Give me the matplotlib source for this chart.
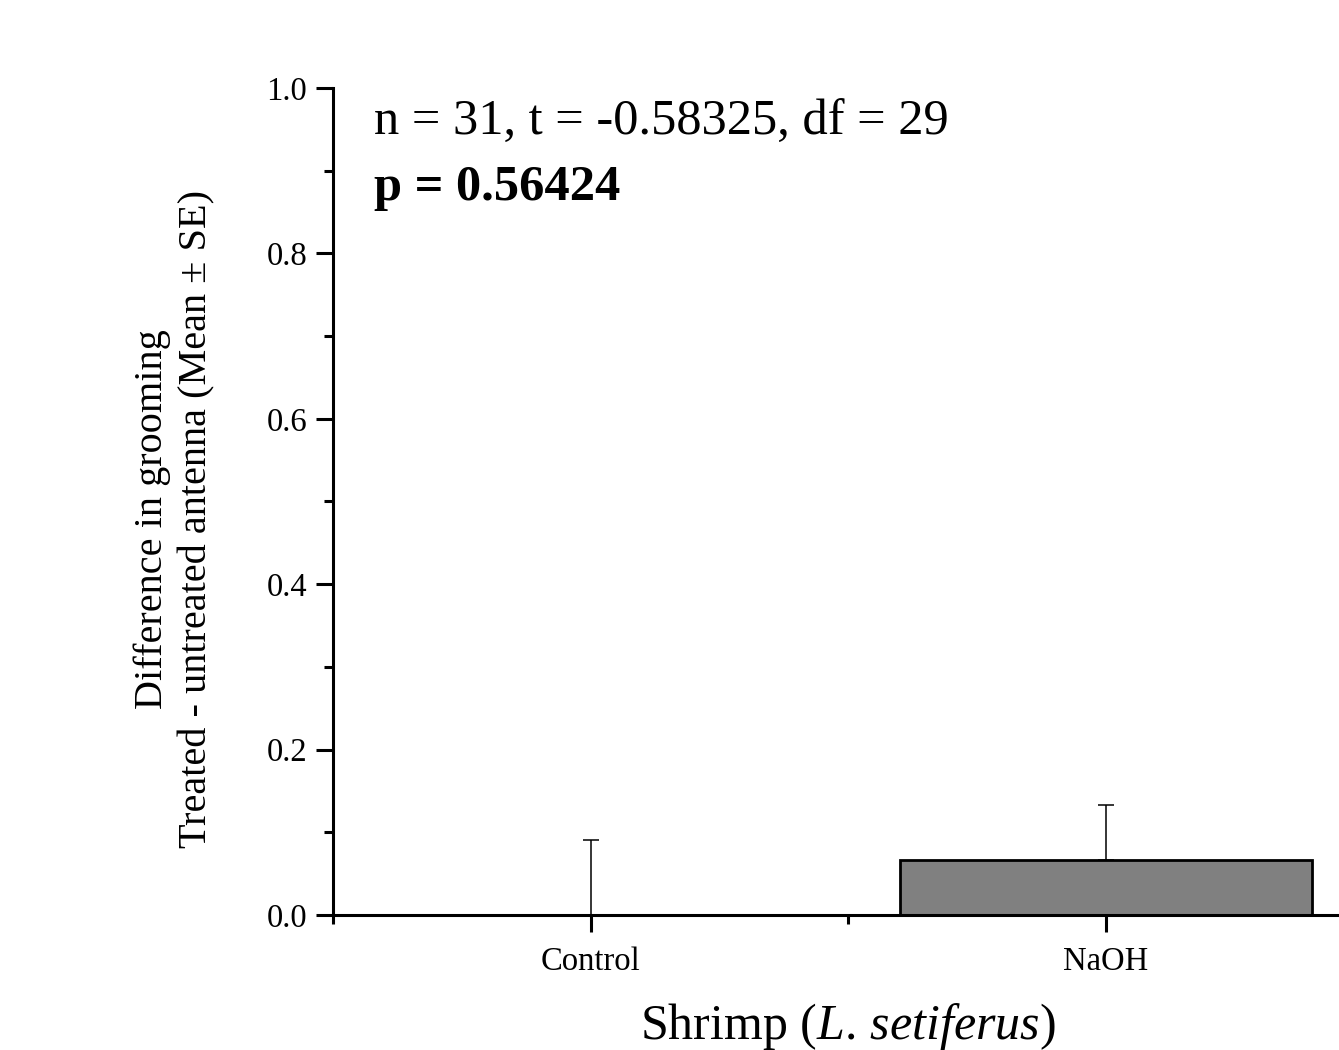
import matplotlib
matplotlib.use("Agg")
import matplotlib.pyplot as plt
from matplotlib.ticker import MultipleLocator, FixedLocator

categories = ["Control", "NaOH"]
means = [0.0, 0.0665]
se = [0.091, 0.0665]
y_ticks = [0.0, 0.2, 0.4, 0.6, 0.8, 1.0]
stats_line1 = "n = 31, t = -0.58325, df = 29"
stats_line2 = "p = 0.56424"

plt.rcParams['font.family'] = ['Liberation Serif', 'DejaVu Serif']
plt.rcParams['mathtext.fontset'] = 'custom'
plt.rcParams['mathtext.rm'] = 'Liberation Serif'
plt.rcParams['mathtext.it'] = 'Liberation Serif:italic'

W, H = 1339, 1050
fig = plt.figure(figsize=(W / 100, H / 100), dpi=100)
left, right, bottom, top = 333, 1363, 915, 88
ax = fig.add_axes([left / W, (H - bottom) / H, (right - left) / W, (bottom - top) / H])

x = [1, 2]
ax.bar(x, means, width=0.8, color="#808080", edgecolor="black", linewidth=2.0, zorder=2)
ax.errorbar(x, means, yerr=[[0, 0], se], fmt='none', ecolor='black', elinewidth=1.1,
            capsize=6, capthick=1.1, zorder=3)

ax.set_xlim(0.5, 2.5)
ax.set_ylim(0, 1.0)
ax.set_xticks(x)
ax.set_xticklabels(categories)
ax.xaxis.set_minor_locator(FixedLocator([0.5, 1.5, 2.5]))
ax.set_yticks(y_ticks)
ax.set_yticklabels([f"{v:.1f}" for v in y_ticks])
ax.yaxis.set_minor_locator(MultipleLocator(0.1))

for s in ['top', 'right']:
    ax.spines[s].set_visible(False)
for s in ['left', 'bottom']:
    ax.spines[s].set_linewidth(2.2)
    ax.spines[s].set_zorder(4)

ax.tick_params(axis='both', which='major', direction='out', length=12.5, width=2.2,
               labelsize=23.5, pad=6)
ax.tick_params(axis='both', which='minor', direction='out', length=6.5, width=2.2)
ax.tick_params(axis='x', which='major', pad=10)

ax.set_ylabel("Difference in grooming\nTreated - untreated antenna (Mean \u00b1 SE)",
              fontsize=29, linespacing=1.28, va='center')
ax.yaxis.set_label_coords(-0.154, 0.479)
ax.set_xlabel(r"Shrimp ($\mathit{L.\,setiferus}$)", fontsize=36, va='top')
ax.xaxis.set_label_coords(0.5, -0.104)

ax.text(0.04, 0.943, stats_line1, transform=ax.transAxes, fontsize=36.4, ha='left', va='baseline')
ax.text(0.04, 0.865, stats_line2, transform=ax.transAxes, fontsize=36.4, ha='left', va='baseline',
        fontweight='bold')

fig.savefig("out.png", dpi=100)
